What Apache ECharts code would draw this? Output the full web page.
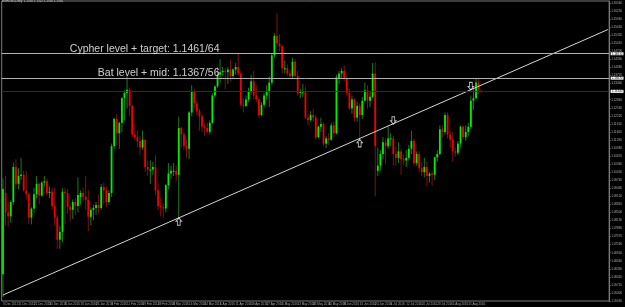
<!DOCTYPE html>
<html><head><meta charset="utf-8">
<script src="https://cdn.jsdelivr.net/npm/echarts@6/dist/echarts.min.js"></script>
<style>html,body{margin:0;padding:0;background:#000}#c{width:625px;height:307px}</style>
</head><body><div id="c"></div>
<script>
const dates = [
'2015.12.03','2015.12.04','2015.12.07','2015.12.08','2015.12.09','2015.12.10','2015.12.11','2015.12.14','2015.12.15','2015.12.16','2015.12.17','2015.12.18','2015.12.21','2015.12.22','2015.12.23','2015.12.24','2015.12.28','2015.12.29','2015.12.30','2015.12.31',
'2016.01.04','2016.01.05','2016.01.06','2016.01.07','2016.01.08','2016.01.11','2016.01.12','2016.01.13','2016.01.14','2016.01.15','2016.01.18','2016.01.19','2016.01.20','2016.01.21','2016.01.22','2016.01.25','2016.01.26','2016.01.27','2016.01.28','2016.01.29',
'2016.02.01','2016.02.02','2016.02.03','2016.02.04','2016.02.05','2016.02.08','2016.02.09','2016.02.10','2016.02.11','2016.02.12','2016.02.15','2016.02.16','2016.02.17','2016.02.18','2016.02.19','2016.02.22','2016.02.23','2016.02.24','2016.02.25','2016.02.26','2016.02.29',
'2016.03.01','2016.03.02','2016.03.03','2016.03.04','2016.03.07','2016.03.08','2016.03.09','2016.03.10','2016.03.11','2016.03.14','2016.03.15','2016.03.16','2016.03.17','2016.03.18','2016.03.21','2016.03.22','2016.03.23','2016.03.24','2016.03.25','2016.03.28','2016.03.29','2016.03.30','2016.03.31',
'2016.04.01','2016.04.04','2016.04.05','2016.04.06','2016.04.07','2016.04.08','2016.04.11','2016.04.12','2016.04.13','2016.04.14','2016.04.15','2016.04.18','2016.04.19','2016.04.20','2016.04.21','2016.04.22','2016.04.25','2016.04.26','2016.04.27','2016.04.28','2016.04.29',
'2016.05.02','2016.05.03','2016.05.04','2016.05.05','2016.05.06','2016.05.09','2016.05.10','2016.05.11','2016.05.12','2016.05.13','2016.05.16','2016.05.17','2016.05.18','2016.05.19','2016.05.20','2016.05.23','2016.05.24','2016.05.25','2016.05.26','2016.05.27','2016.05.30','2016.05.31',
'2016.06.01','2016.06.02','2016.06.03','2016.06.06','2016.06.07','2016.06.08','2016.06.09','2016.06.10','2016.06.13','2016.06.14','2016.06.15','2016.06.16','2016.06.17','2016.06.20','2016.06.21','2016.06.22','2016.06.23','2016.06.24','2016.06.27','2016.06.28','2016.06.29','2016.06.30',
'2016.07.01','2016.07.04','2016.07.05','2016.07.06','2016.07.07','2016.07.08','2016.07.11','2016.07.12','2016.07.13','2016.07.14','2016.07.15','2016.07.18','2016.07.19','2016.07.20','2016.07.21','2016.07.22','2016.07.25','2016.07.26','2016.07.27','2016.07.28','2016.07.29',
'2016.08.01','2016.08.02','2016.08.03','2016.08.04','2016.08.05','2016.08.08','2016.08.09','2016.08.10','2016.08.11','2016.08.12','2016.08.15','2016.08.16','2016.08.17','2016.08.18','2016.08.19','2016.08.22'
];
const opens = [
1.0612,1.0925,1.0850,1.0835,1.0890,1.1025,1.0960,1.0990,1.0995,1.0935,1.0920,1.0830,1.0865,1.0920,1.0960,1.0915,1.0965,1.0970,1.0925,1.0930,
1.0875,1.0830,1.0745,1.0775,1.0930,1.0925,1.0871,1.0860,1.0890,1.0875,1.0910,1.0925,1.0910,1.0898,1.0833,1.0860,1.0867,1.0879,1.0867,1.0948,
1.0935,1.0890,1.0925,1.1105,1.1210,1.1155,1.1195,1.1290,1.1310,1.1322,1.1260,1.1150,1.1140,1.1125,1.1100,1.1130,1.1025,1.1015,1.1015,1.1025,1.0935,
1.0875,1.0870,1.0865,1.0955,1.1000,1.1010,1.1010,1.0995,1.1175,1.1150,1.1105,1.1095,1.1235,1.1315,1.1270,1.1240,1.1220,1.1180,1.1175,1.1160,1.1195,1.1300,1.1335,
1.1380,1.1390,1.1395,1.1390,1.1400,1.1375,1.1400,1.1410,1.1385,1.1265,1.1260,1.1285,1.1315,1.1355,1.1300,1.1285,1.1225,1.1265,1.1300,1.1315,1.1350,
1.1455,1.1530,1.1500,1.1490,1.1405,1.1405,1.1385,1.1375,1.1430,1.1375,1.1310,1.1315,1.1315,1.1215,1.1205,1.1225,1.1215,1.1140,1.1180,1.1190,1.1115,1.1135,
1.1130,1.1185,1.1155,1.1365,1.1385,1.1395,1.1365,1.1310,1.1250,1.1285,1.1215,1.1260,1.1225,1.1280,1.1320,1.1280,1.1295,1.1385,1.1010,1.1030,1.1075,1.1120,
1.1105,1.1135,1.1135,1.1075,1.1060,1.1085,1.1055,1.1050,1.1060,1.1095,1.1125,1.1040,1.1075,1.1020,1.1005,1.1025,1.0990,1.1000,1.0995,1.1062,1.1075,
1.1170,1.1160,1.1225,1.1150,1.1130,1.1085,1.1080,1.1115,1.1180,1.1140,1.1160,1.1180,1.1280,1.1290,1.1350,1.1318
];
const highs = [
1.0981,1.0990,1.0890,1.0896,1.1042,1.1055,1.1020,1.1060,1.1010,1.1010,1.0925,1.0870,1.0945,1.0990,1.0965,1.0970,1.0990,1.0980,1.0950,1.0945,
1.0945,1.0840,1.0797,1.0943,1.0945,1.0940,1.0880,1.0900,1.0905,1.0985,1.0935,1.0945,1.0990,1.0935,1.0870,1.0880,1.0890,1.0920,1.0960,1.0965,
1.0950,1.0935,1.1115,1.1215,1.1230,1.1200,1.1295,1.1320,1.1376,1.1330,1.1265,1.1190,1.1165,1.1145,1.1165,1.1130,1.1050,1.1050,1.1045,1.1070,1.0960,
1.0905,1.0885,1.0960,1.1040,1.1030,1.1040,1.1030,1.1218,1.1180,1.1160,1.1130,1.1240,1.1340,1.1325,1.1280,1.1250,1.1230,1.1195,1.1195,1.1205,1.1310,1.1340,1.1410,
1.1440,1.1410,1.1405,1.1410,1.1437,1.1405,1.1425,1.1464,1.1395,1.1290,1.1300,1.1330,1.1380,1.1395,1.1340,1.1290,1.1275,1.1310,1.1340,1.1375,1.1460,
1.1540,1.1616,1.1535,1.1495,1.1435,1.1420,1.1400,1.1445,1.1440,1.1395,1.1325,1.1345,1.1335,1.1230,1.1240,1.1250,1.1225,1.1185,1.1215,1.1195,1.1145,1.1155,
1.1195,1.1200,1.1380,1.1395,1.1405,1.1416,1.1380,1.1325,1.1300,1.1290,1.1275,1.1270,1.1295,1.1350,1.1340,1.1315,1.1425,1.1428,1.1100,1.1090,1.1140,1.1135,
1.1185,1.1155,1.1145,1.1105,1.1120,1.1095,1.1075,1.1090,1.1110,1.1165,1.1135,1.1085,1.1085,1.1045,1.1060,1.1045,1.1005,1.1010,1.1065,1.1090,1.1185,
1.1185,1.1235,1.1235,1.1165,1.1160,1.1100,1.1125,1.1185,1.1185,1.1185,1.1195,1.1300,1.1325,1.1366,1.1365,1.1322
];
const lows = [
1.0524,1.0800,1.0796,1.0810,1.0880,1.0940,1.0940,1.0975,1.0930,1.0900,1.0805,1.0804,1.0850,1.0905,1.0880,1.0910,1.0950,1.0915,1.0905,1.0860,
1.0800,1.0710,1.0710,1.0735,1.0805,1.0845,1.0815,1.0825,1.0840,1.0850,1.0880,1.0895,1.0860,1.0778,1.0800,1.0820,1.0840,1.0845,1.0860,1.0880,
1.0870,1.0880,1.0910,1.1095,1.1110,1.1095,1.1160,1.1205,1.1250,1.1220,1.1140,1.1130,1.1100,1.1070,1.1090,1.1005,1.0990,1.0960,1.0995,1.0915,1.0860,
1.0835,1.0830,1.0850,1.0940,1.0980,1.0990,1.0970,1.0822,1.1100,1.1090,1.1060,1.1055,1.1220,1.1250,1.1225,1.1165,1.1160,1.1145,1.1155,1.1150,1.1190,1.1290,1.1330,
1.1350,1.1375,1.1325,1.1345,1.1355,1.1365,1.1380,1.1375,1.1260,1.1235,1.1255,1.1275,1.1305,1.1285,1.1275,1.1215,1.1220,1.1255,1.1285,1.1255,1.1340,
1.1445,1.1485,1.1470,1.1385,1.1385,1.1375,1.1365,1.1365,1.1370,1.1300,1.1290,1.1295,1.1210,1.1185,1.1200,1.1200,1.1130,1.1135,1.1160,1.1105,1.1098,1.1110,
1.1125,1.1140,1.1150,1.1345,1.1365,1.1355,1.1300,1.1245,1.1230,1.1200,1.1200,1.1130,1.1210,1.1280,1.1250,1.1255,1.1290,1.0912,1.0990,1.1010,1.1055,1.1035,
1.1095,1.1105,1.1030,1.1030,1.1040,1.0995,1.1030,1.1025,1.1050,1.1075,1.1030,1.1030,1.1005,1.0990,1.0985,1.0950,1.0965,1.0952,1.0975,1.1045,1.1070,
1.1140,1.1150,1.1135,1.1100,1.1045,1.1065,1.1070,1.1100,1.1130,1.1125,1.1145,1.1170,1.1245,1.1285,1.1305,1.1310
];
const closes = [
1.0940,1.0850,1.0835,1.0890,1.1025,1.0960,1.0990,1.0995,1.0935,1.0920,1.0830,1.0865,1.0920,1.0960,1.0915,1.0965,1.0970,1.0925,1.0930,1.0875,
1.0830,1.0745,1.0775,1.0930,1.0925,1.0871,1.0860,1.0890,1.0875,1.0917,1.0925,1.0910,1.0898,1.0833,1.0860,1.0867,1.0879,1.0867,1.0948,1.0935,
1.0890,1.0925,1.1105,1.1210,1.1155,1.1195,1.1290,1.1310,1.1322,1.1260,1.1150,1.1140,1.1125,1.1100,1.1130,1.1025,1.1015,1.1015,1.1025,1.0935,1.0875,
1.0870,1.0865,1.0955,1.1000,1.1010,1.1010,1.0995,1.1175,1.1150,1.1105,1.1095,1.1235,1.1315,1.1270,1.1240,1.1220,1.1180,1.1175,1.1160,1.1195,1.1300,1.1335,1.1380,
1.1390,1.1395,1.1390,1.1400,1.1375,1.1400,1.1410,1.1385,1.1265,1.1260,1.1285,1.1315,1.1355,1.1300,1.1285,1.1225,1.1265,1.1300,1.1315,1.1350,1.1455,
1.1530,1.1500,1.1490,1.1405,1.1405,1.1385,1.1375,1.1430,1.1375,1.1310,1.1315,1.1315,1.1215,1.1205,1.1225,1.1215,1.1140,1.1180,1.1190,1.1115,1.1135,1.1130,
1.1185,1.1155,1.1370,1.1385,1.1395,1.1365,1.1310,1.1250,1.1285,1.1215,1.1260,1.1225,1.1280,1.1320,1.1280,1.1295,1.1385,1.1105,1.1030,1.1075,1.1120,1.1105,
1.1135,1.1135,1.1075,1.1060,1.1085,1.1055,1.1050,1.1060,1.1095,1.1125,1.1040,1.1075,1.1020,1.1005,1.1025,1.0990,1.1000,1.0995,1.1062,1.1075,1.1170,
1.1160,1.1225,1.1150,1.1130,1.1085,1.1080,1.1115,1.1180,1.1140,1.1160,1.1180,1.1280,1.1290,1.1350,1.1325,1.1316
];
const futureSlots = 49;
const priceMin = 1.0509, priceMax = 1.1664, priceStep = 0.0031;
const levelPrices = [1.1461, 1.1367, 1.1316];
const levelTexts = ['Cypher level + target: 1.1461/64', 'Bat level + mid: 1.1367/56'];
const textAnchors = [[83, 1.1461], [83, 1.1367]];
const upArrows = [[68, 1.0815], [138, 1.1117]];
const downArrows = [[151, 1.1204], [181, 1.1336]];
const trendLine = [[0, 1.0532], [234, 1.1554]];
const monthNames = ['Jan','Feb','Mar','Apr','May','Jun','Jul','Aug','Sep','Oct','Nov','Dec'];

const labels = dates.map(d => { const p = d.split('.'); return (+p[2]) + ' ' + monthNames[+p[1]-1] + ' ' + p[0]; });
for (let k = 0; k < futureSlots; k++) labels.push('');
const candleData = opens.map((o, i) => [i, o, closes[i], lows[i], highs[i]]);

const BULL = '#00f000', BEAR = '#f00000', BULLW = '#1b7a1b', BEARW = '#7a1414';
function renderCandle(params, api) {
  const i = api.value(0), o = api.value(1), c = api.value(2), l = api.value(3), h = api.value(4);
  const pO = api.coord([i, o]), pC = api.coord([i, c]), pL = api.coord([i, l]), pH = api.coord([i, h]);
  const up = c >= o;
  const w = 1.8, x = pO[0];
  const top = Math.min(pO[1], pC[1]), bot = Math.max(pO[1], pC[1]);
  return { type: 'group', children: [
    { type: 'line', shape: { x1: x, y1: pH[1], x2: x, y2: pL[1] }, style: { stroke: up ? BULLW : BEARW, lineWidth: 1 } },
    { type: 'rect', shape: { x: x - w / 2, y: top, width: w, height: Math.max(bot - top, 1) }, style: { fill: up ? BULL : BEAR } }
  ]};
}
const upPath = 'path://M4,0 L8,4 L6,4 L6,9 L2,9 L2,4 L0,4 Z';
const downPath = 'path://M2,0 L6,0 L6,5 L8,5 L4,9 L0,5 L2,5 Z';
const chart = echarts.init(document.getElementById('c'), null, { renderer: 'canvas' });
chart.setOption({
  backgroundColor: '#000',
  animation: false,
  title: { text: 'EURUSD,Daily  1.1318 1.1322 1.1310 1.1316', left: 2, top: 0, padding: 0,
    textStyle: { color: '#cfcfcf', fontSize: 3, fontWeight: 'normal', fontFamily: 'Liberation Sans' } },
  grid: { left: 1.5, right: 10.6, top: 1, bottom: 6, show: true, borderColor: '#7a7a7a', borderWidth: 1 },
  xAxis: { type: 'category', data: labels, boundaryGap: true,
    axisLine: { show: false }, axisTick: { show: false }, splitLine: { show: false },
    axisLabel: { interval: 5, fontSize: 3, color: '#aaaaaa', margin: 1.5, align: 'left', fontFamily: 'Liberation Sans' } },
  yAxis: { type: 'value', position: 'right', min: priceMin, max: priceMax, interval: priceStep, scale: true,
    axisLine: { show: true, lineStyle: { color: '#7a7a7a' } }, axisTick: { show: true, length: 1.5, lineStyle: { color: '#7a7a7a' } },
    splitLine: { show: false },
    axisLabel: { fontSize: 3, color: '#b0b0b0', margin: 2, showMaxLabel: false, fontFamily: 'Liberation Sans', formatter: v => v.toFixed(5) } },
  series: [
    { type: 'custom', renderItem: renderCandle, data: candleData, encode: { x: 0, y: [1, 2, 3, 4] }, z: 2, clip: true },
    { type: 'line', data: trendLine, symbol: 'none', z: 4, silent: true,
      lineStyle: { color: '#d6d6d6', width: 1 },
      markLine: { silent: true, symbol: 'none', animation: false, precision: 5,
        data: [
          { yAxis: levelPrices[0], lineStyle: { color: '#b0b0b0', width: 1, type: 'solid' } },
          { yAxis: levelPrices[1], lineStyle: { color: '#b0b0b0', width: 1, type: 'solid' } },
          { yAxis: levelPrices[2], lineStyle: { color: '#2c2c2c', width: 1, type: 'solid' } }
        ],
        label: { show: true, position: 'end', formatter: p => (+p.value).toFixed(5), backgroundColor: '#ffffff', color: '#000',
          fontSize: 3, padding: [0, 1], distance: 1.5, fontFamily: 'Liberation Sans' } } },
    { type: 'scatter', data: upArrows, symbol: upPath, symbolSize: [5.5, 7.5], z: 5, silent: true,
      itemStyle: { color: 'rgba(0,0,0,0)', borderColor: '#e8e8e8', borderWidth: 1 } },
    { type: 'scatter', data: downArrows, symbol: downPath, symbolSize: [5.5, 7.5], z: 5, silent: true,
      itemStyle: { color: 'rgba(0,0,0,0)', borderColor: '#e8e8e8', borderWidth: 1 } },
    { type: 'scatter', symbolSize: 0, z: 6, silent: true,
      data: textAnchors.map((a, k) => ({ value: a, name: levelTexts[k], label: { offset: [2, k === 0 ? 1 : 0] } })),
      label: { show: true, position: [0, 0], align: 'right', verticalAlign: 'bottom', formatter: p => p.name,
        color: '#ffffff', fontSize: 10.5, fontFamily: 'Liberation Sans' } }
  ]
});
</script></body></html>
